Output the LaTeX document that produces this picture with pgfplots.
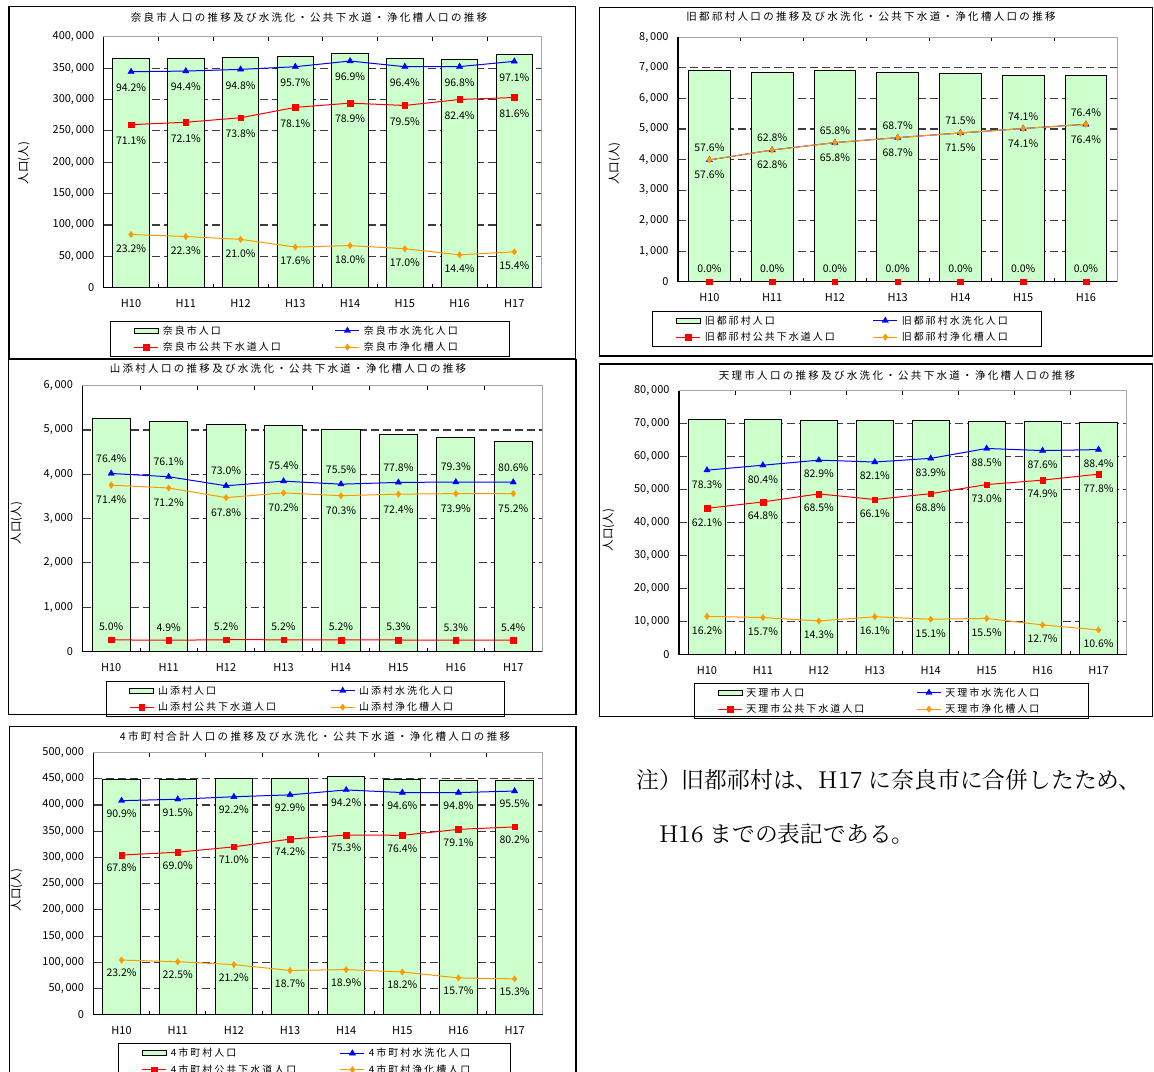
\documentclass[border=0pt]{standalone}
\usepackage{fontspec}
\setmainfont{Noto Sans CJK JP}
\newfontfamily\ttlfam[LetterSpace=22]{Noto Sans CJK JP}
\newfontfamily\lgdfam[LetterSpace=20]{Noto Sans CJK JP}
\newfontfamily\notefam{Noto Serif CJK JP}
\usepackage{pgfplots}
\usepackage{pgfplotstable}
\pgfplotsset{compat=1.18}

\definecolor{barg}{HTML}{CCFFCC}
\definecolor{orng}{RGB}{255,153,0}
\definecolor{gridc}{RGB}{60,60,60}

\newcommand\tickf{\fontsize{11}{12}\selectfont}
\newcommand\pctf{\fontsize{10.5}{11}\selectfont}
\newcommand\lgdf{\lgdfam\fontsize{10}{11}\selectfont}
\newcommand\ttlf{\ttlfam\fontsize{10.5}{12}\selectfont}
\newcommand\ylf{\fontsize{11.5}{12}\selectfont}
\newcommand\notef{\notefam\fontsize{22.8}{26}\selectfont}
\newcommand\LA[2][174pt]{\makebox[#1][l]{\hspace{4pt}#2}}
\newcommand\LB[2][149pt]{\makebox[#1][l]{\hspace{4pt}#2}}

% x pop flush flush% sewer sewer% septic septic%
\pgfplotstableread{
x pop fl flp sw swp sp spp
0 365400 344207 94.2 259799 71.1 84773 23.2
1 365700 345221 94.4 263670 72.1 81551 22.3
2 367000 347916 94.8 270846 73.8 77070 21.0
3 368000 352176 95.7 287408 78.1 64768 17.6
4 372800 361243 96.9 294139 78.9 67104 18.0
5 365300 352149 96.4 290414 79.5 62101 17.0
6 364000 352352 96.8 299936 82.4 52416 14.4
7 371500 360727 97.1 303144 81.6 57211 15.4
}\tnara

\pgfplotstableread{
x pop fl flp sw swp sp spp
0 6920 3986 57.6 0 0.0 3986 57.6
1 6864 4311 62.8 0 0.0 4311 62.8
2 6920 4553 65.8 0 0.0 4553 65.8
3 6864 4716 68.7 0 0.0 4716 68.7
4 6808 4868 71.5 0 0.0 4868 71.5
5 6766 5014 74.1 0 0.0 5014 74.1
6 6743 5152 76.4 0 0.0 5152 76.4
}\ttsuge

\pgfplotstableread{
x pop fl flp sw swp sp spp
0 5260 4019 76.4 263 5.0 3756 71.4
1 5184 3945 76.1 254 4.9 3691 71.2
2 5124 3741 73.0 266 5.2 3474 67.8
3 5101 3846 75.4 265 5.2 3581 70.2
4 5003 3777 75.5 260 5.2 3517 70.3
5 4906 3817 77.8 260 5.3 3552 72.4
6 4823 3825 79.3 256 5.3 3564 73.9
7 4741 3821 80.6 256 5.4 3565 75.2
}\tyama

\pgfplotstableread{
x pop fl flp sw swp sp spp
0 71400 55906 78.3 44339 62.1 11567 16.2
1 71400 57406 80.4 46267 64.8 11210 15.7
2 71100 58942 82.9 48704 68.5 10167 14.3
3 71100 58373 82.1 46997 66.1 11447 16.1
4 70900 59485 83.9 48779 68.8 10706 15.1
5 70600 62481 88.5 51538 73.0 10943 15.5
6 70600 61846 87.6 52879 74.9 8966 12.7
7 70300 62145 88.4 54693 77.8 7452 10.6
}\ttenri

\pgfplotstableread{
x pop fl flp sw swp sp spp
0 449000 408141 90.9 304422 67.8 104168 23.2
1 449100 410927 91.5 309879 69.0 101048 22.5
2 450800 415638 92.2 320068 71.0 95570 21.2
3 451300 419258 92.9 334865 74.2 84393 18.7
4 455000 428610 94.2 342615 75.3 85995 18.9
5 447800 423619 94.6 342119 76.4 81500 18.2
6 446800 423566 94.8 353419 79.1 70148 15.7
7 446600 426503 95.5 358173 80.2 68330 15.3
}\ttotal

\pgfplotsset{
  panel/.style={
    scale only axis, anchor=north west, clip=false,
    xmin=-0.5, ymin=0,
    axis line style={draw=gray!70, line width=0.8pt},
    ymajorgrids,
    major grid style={draw=gridc, line width=1.1pt, dash pattern=on 8pt off 4pt},
    xtick={0,...,7},
    xticklabels={H10,H11,H12,H13,H14,H15,H16,H17},
    major x tick style={draw=none},
    minor x tick style={draw=black, line width=0.8pt},
    minor tick length=4pt, tick align=inside,
    ytick style={draw=none},
    scaled y ticks=false,
    yticklabel={\pgfmathprintnumber[fixed,precision=0,1000 sep={,\,},assume math mode=true]{\tick}},
    ticklabel style={font=\tickf},
    yticklabel style={anchor=east, xshift=-6pt},
    xticklabel style={anchor=base, yshift=-20pt},
    ylabel={人口(人)},
    ylabel style={font=\ylf, anchor=center},
    legend columns=2,
    legend cell align=left,
    legend style={anchor=north west, draw=black, line width=1pt, fill=white,
      inner xsep=0pt, inner ysep=1.2pt, font=\lgdf,
      nodes={inner sep=0pt}, /tikz/column sep=0pt, /tikz/row sep=0pt},
  },
  barp/.style={ybar, bar width=0.665, fill=barg, draw=black, line width=1pt,
    legend image code/.code={\path (-23pt,-7.75pt) (0pt,7.75pt);
      \draw[fill=barg, draw=black, line width=0.8pt] (0pt,-2.5pt) rectangle (24pt,2.5pt);}},
  bl/.style={blue, line width=1pt, mark=triangle*, mark size=3.6pt,
    mark options={solid, fill=blue, line width=0.4pt},
    legend image code/.code={\path (0pt,-7.75pt) (0pt,7.75pt);
      \draw[mark repeat=2,mark phase=2,##1] plot coordinates {(0pt,0pt) (12pt,0pt) (24pt,0pt)};}},
  rd/.style={red, line width=1pt, mark=square*, mark size=2.8pt,
    mark options={solid, fill=red, line width=0.4pt},
    legend image code/.code={\path (-23pt,-7.75pt) (0pt,7.75pt);
      \draw[mark repeat=2,mark phase=2,##1] plot coordinates {(0pt,0pt) (12pt,0pt) (24pt,0pt)};}},
  og/.style={orng, line width=1pt, mark=diamond*, mark size=3.2pt,
    mark options={solid, fill=orng, line width=0.4pt},
    legend image code/.code={\path (0pt,-7.75pt) (0pt,7.75pt);
      \draw[mark repeat=2,mark phase=2,##1] plot coordinates {(0pt,0pt) (12pt,0pt) (24pt,0pt)};}},
  lbl/.style={nodes near coords={\pgfplotspointmeta\%}, point meta=explicit symbolic,
    every node near coord/.append style={font=\pctf, text=black, anchor=center, yshift=#1, inner sep=0pt}},
}

\begin{document}
\begin{tikzpicture}
\path[use as bounding box] (0pt,0pt) rectangle (1154pt,-1071pt);

% ---------- Panel 1: Nara ----------
\begin{axis}[panel, at={(103.7pt,-36.7pt)}, width=438pt, height=251pt,
  xmax=7.5, ymax=400000, ytick={0,50000,...,400000}, minor xtick={0.5,1.5,...,6.5},
  ylabel style={at={(axis description cs:-0.182,0.497)}},
  legend style={at={(0.0153,-0.1315)}}]
\addplot[barp] table[x=x,y=pop]{\tnara}; \addlegendentry{\LA[176pt]{奈良市人口}}
\addplot[bl, lbl=-16pt] table[x=x,y=fl,meta=flp]{\tnara}; \addlegendentry{\LB[150pt]{奈良市水洗化人口}}
\addplot[rd, lbl=-16pt] table[x=x,y=sw,meta=swp]{\tnara}; \addlegendentry{\LA[176pt]{奈良市公共下水道人口}}
\addplot[og, lbl=-14pt] table[x=x,y=sp,meta=spp]{\tnara}; \addlegendentry{\LB[150pt]{奈良市浄化槽人口}}
\draw[black, line width=1.2pt] (rel axis cs:0,1) -- (rel axis cs:0,0) -- (rel axis cs:1,0);
\end{axis}

% ---------- Panel 2: Tsuge ----------
\begin{axis}[panel, at={(678pt,-37.3pt)}, width=439.3pt, height=244.4pt,
  xmax=6.5, ymax=8000, ytick={0,1000,...,8000}, minor xtick={0.5,1.5,...,5.5},
  ylabel style={at={(axis description cs:-0.1443,0.484)}},
  legend style={at={(-0.0585,-0.1187)}}]
\addplot[barp] table[x=x,y=pop]{\ttsuge}; \addlegendentry{\LA[172pt]{旧都祁村人口}}
\addplot[bl, lbl=-15pt] table[x=x,y=fl,meta=flp]{\ttsuge}; \addlegendentry{\LB[144pt]{旧都祁村水洗化人口}}
\addplot[rd, lbl=13pt] table[x=x,y=sw,meta=swp]{\ttsuge}; \addlegendentry{\LA[172pt]{旧都祁村公共下水道人口}}
\addplot[og, lbl=12pt] table[x=x,y=sp,meta=spp]{\ttsuge}; \addlegendentry{\LB[144pt]{旧都祁村浄化槽人口}}
\draw[black, line width=1.2pt] (rel axis cs:0,1) -- (rel axis cs:0,0) -- (rel axis cs:1,0);
\end{axis}

% ---------- Panel 3: Yamazoe ----------
\begin{axis}[panel, at={(82.5pt,-385.7pt)}, width=459.5pt, height=265.8pt,
  xmax=7.5, ymax=6000, ytick={0,1000,...,6000}, minor xtick={0.5,1.5,...,6.5},
  ylabel style={at={(axis description cs:-0.1434,0.483)}},
  legend style={at={(0.0505,-0.1099)}}]
\addplot[barp] table[x=x,y=pop]{\tyama}; \addlegendentry{\LA[176pt]{山添村人口}}
\addplot[bl, lbl=15pt] table[x=x,y=fl,meta=flp]{\tyama}; \addlegendentry{\LB[149pt]{山添村水洗化人口}}
\addplot[rd, lbl=13pt] table[x=x,y=sw,meta=swp]{\tyama}; \addlegendentry{\LA[176pt]{山添村公共下水道人口}}
\addplot[og, lbl=-15pt] table[x=x,y=sp,meta=spp]{\tyama}; \addlegendentry{\LB[149pt]{山添村浄化槽人口}}
\draw[black, line width=1.2pt] (rel axis cs:0,1) -- (rel axis cs:0,0) -- (rel axis cs:1,0);
\end{axis}

% ---------- Panel 4: Tenri ----------
\begin{axis}[panel, at={(679pt,-390.7pt)}, width=447.5pt, height=263.8pt,
  xmax=7.5, ymax=80000, ytick={0,10000,...,80000}, minor xtick={0.5,1.5,...,6.5},
  ylabel style={at={(axis description cs:-0.1575,0.472)}},
  legend style={at={(0.0335,-0.1069)}}]
\addplot[barp] table[x=x,y=pop]{\ttenri}; \addlegendentry{\LA[174pt]{天理市人口}}
\addplot[bl, lbl=-14pt] table[x=x,y=fl,meta=flp]{\ttenri}; \addlegendentry{\LB[147pt]{天理市水洗化人口}}
\addplot[rd, lbl=-14pt] table[x=x,y=sw,meta=swp]{\ttenri}; \addlegendentry{\LA[174pt]{天理市公共下水道人口}}
\addplot[og, lbl=-14pt] table[x=x,y=sp,meta=spp]{\ttenri}; \addlegendentry{\LB[147pt]{天理市浄化槽人口}}
\draw[black, line width=1.2pt] (rel axis cs:0,1) -- (rel axis cs:0,0) -- (rel axis cs:1,0);
\end{axis}

% ---------- Panel 5: Total ----------
\begin{axis}[panel, at={(93.5pt,-752.5pt)}, width=449.2pt, height=262.2pt,
  xmax=7.5, ymax=500000, ytick={0,50000,...,500000}, minor xtick={0.5,1.5,...,6.5},
  ylabel style={at={(axis description cs:-0.1712,0.476)}},
  legend style={at={(0.0554,-0.1091)}}]
\addplot[barp] table[x=x,y=pop]{\ttotal}; \addlegendentry{\LA[173pt]{4市町村人口}}
\addplot[bl, lbl=-13pt] table[x=x,y=fl,meta=flp]{\ttotal}; \addlegendentry{\LB[146pt]{4市町村水洗化人口}}
\addplot[rd, lbl=-13pt] table[x=x,y=sw,meta=swp]{\ttotal}; \addlegendentry{\LA[173pt]{4市町村公共下水道人口}}
\addplot[og, lbl=-13pt] table[x=x,y=sp,meta=spp]{\ttotal}; \addlegendentry{\LB[146pt]{4市町村浄化槽人口}}
\draw[black, line width=1.2pt] (rel axis cs:0,1) -- (rel axis cs:0,0) -- (rel axis cs:1,0);
\end{axis}

% ---------- frames ----------
\draw[black, line width=1.2pt] (9pt,-6.7pt) rectangle (575.5pt,-358.3pt);
\draw[black, line width=1.2pt] (599.3pt,-7.3pt) rectangle (1152.7pt,-356pt);
\draw[black, line width=1.2pt] (8.5pt,-359.5pt) rectangle (576pt,-714.3pt);
\draw[black, line width=1.2pt] (599.3pt,-364pt) rectangle (1152.7pt,-716.7pt);
\draw[black, line width=1.2pt] (9.2pt,-726.7pt) rectangle (576pt,-1090pt);

% ---------- titles ----------
\node[font=\ttlf] at (309pt,-17.5pt) {奈良市人口の推移及び水洗化・公共下水道・浄化槽人口の推移};
\node[font=\ttlf] at (871pt,-17pt) {旧都祁村人口の推移及び水洗化・公共下水道・浄化槽人口の推移};
\node[font=\ttlf] at (288pt,-369pt) {山添村人口の推移及び水洗化・公共下水道・浄化槽人口の推移};
\node[font=\ttlf] at (897pt,-375.7pt) {天理市人口の推移及び水洗化・公共下水道・浄化槽人口の推移};
\node[font=\ttlf] at (315pt,-736.7pt) {4市町村合計人口の推移及び水洗化・公共下水道・浄化槽人口の推移};

% ---------- note ----------
\node[font=\notef, anchor=west, inner sep=0pt] at (636pt,-780pt) {注）旧都祁村は、H17 に奈良市に合併したため、};
\node[font=\notef, anchor=west, inner sep=0pt] at (659pt,-834pt) {H16 までの表記である。};
\end{tikzpicture}
\end{document}
